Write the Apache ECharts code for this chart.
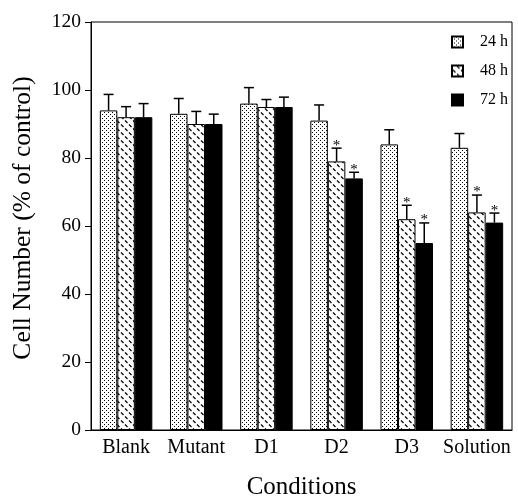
<!DOCTYPE html>
<html><head><meta charset="utf-8">
<script src="https://cdn.jsdelivr.net/npm/echarts@6/dist/echarts.min.js"></script>
<style>html,body{margin:0;padding:0;background:#fff}#c{width:518px;height:499px}</style>
</head><body><div id="c"></div>
<script>
const categories = ['Blank','Mutant','D1','D2','D3','Solution'];
const seriesNames = ['24 h','48 h','72 h'];
const v24 = [94, 93, 96, 91, 84, 83];
const v48 = [92, 90, 95, 79, 62, 64];
const v72 = [92, 90, 95, 74, 55, 61];
const e24 = [4.7, 4.5, 4.7, 4.6, 4.3, 4.2];
const e48 = [3.1, 3.7, 2.2, 3.9, 4.1, 5.1];
const e72 = [4.0, 2.9, 2.9, 1.8, 5.9, 2.8];
const sig24 = [0,0,0,0,0,0];
const sig48 = [0,0,0,1,1,1];
const sig72 = [0,0,0,1,1,1];
const yTicks = [0,20,40,60,80,100,120];

function dotPattern(){
  const c=document.createElement('canvas'); c.width=4; c.height=4;
  const x=c.getContext('2d'); x.fillStyle='#fff'; x.fillRect(0,0,4,4);
  x.fillStyle='#000'; x.fillRect(0,0,1,1); x.fillRect(2,2,1,1);
  return c;
}
function dashPattern(){
  const c=document.createElement('canvas'); c.width=8; c.height=8;
  const x=c.getContext('2d'); x.fillStyle='#fff'; x.fillRect(0,0,8,8);
  x.strokeStyle='#000'; x.lineWidth=1.2;
  x.beginPath(); x.moveTo(1,4.5); x.lineTo(3.5,7); x.moveTo(5,0.5); x.lineTo(7.5,3); x.stroke();
  return c;
}
const fills = [
  {image: dotPattern(), repeat:'repeat'},
  {image: dashPattern(), repeat:'repeat'},
  '#000'
];
const vals=[v24,v48,v72], errs=[e24,e48,e72], sigs=[sig24,sig48,sig72];
const BW = 17.5;
const font = 'Liberation Serif';

const chart = echarts.init(document.getElementById('c'));
const series = [];
for (let s=0;s<3;s++){
  series.push({
    name: seriesNames[s], type:'bar', data: vals[s], barWidth: BW, barGap:'0%',
    itemStyle:{color: fills[s], borderColor:'#000', borderWidth:1},
    emphasis:{disabled:true}
  });
}
const errData=[];
for (let s=0;s<3;s++) for (let i=0;i<categories.length;i++) errData.push([i, vals[s][i], errs[s][i], s, sigs[s][i]]);
series.push({
  type:'custom', data: errData, z: 10, silent:true,
  renderItem: function(params, api){
    const ci=api.value(0), v=api.value(1), e=api.value(2), s=api.value(3), sg=api.value(4);
    const p0=api.coord([ci, v]); const p1=api.coord([ci, v+e]);
    const x=p0[0]+(s-1)*BW;
    const ch=[
      {type:'line', shape:{x1:x,y1:p0[1],x2:x,y2:p1[1]}, style:{stroke:'#000',lineWidth:1.5}},
      {type:'line', shape:{x1:x-5,y1:p1[1],x2:x+5,y2:p1[1]}, style:{stroke:'#000',lineWidth:1.5}}
    ];
    if (sg) ch.push({type:'text', style:{text:'*', x:x, y:p1[1]+5, align:'center', verticalAlign:'bottom', font:'15px "Liberation Serif"', fill:'#000'}});
    return {type:'group', children: ch};
  }
});

chart.setOption({
  animation:false,
  backgroundColor:'#fff',
  grid:{left:91, right:6, top:22, bottom:69, show:true, borderColor:'#000', borderWidth:1, backgroundColor:'transparent', containLabel:false, outerBoundsMode:'none'},
  legend:{
    data: seriesNames, orient:'vertical', left:446, top:29, itemWidth:11, itemHeight:11, itemGap:13,
    icon:'rect', selectedMode:false,
    textStyle:{fontFamily:font, fontSize:16, color:'#000', padding:[0,0,0,12]}
  },
  xAxis:{
    type:'category', data: categories, name:'Conditions', nameLocation:'middle', nameGap:45,
    nameTextStyle:{fontFamily:font, fontSize:25, color:'#000'},
    axisLine:{lineStyle:{color:'#000', width:1}},
    axisTick:{alignWithLabel:true, length:6, lineStyle:{color:'#000'}},
    axisLabel:{interval:0, fontFamily:font, fontSize:20, color:'#000', margin:8}
  },
  yAxis:{
    type:'value', min:yTicks[0], max:yTicks[yTicks.length-1], interval:20,
    name:'Cell Number (% of control)', nameLocation:'middle', nameGap:55,
    nameTextStyle:{fontFamily:font, fontSize:25.5, color:'#000', padding:[0,0,0,16]},
    axisLine:{show:true, lineStyle:{color:'#000', width:1}},
    axisTick:{show:true, length:6, lineStyle:{color:'#000'}},
    axisLabel:{fontFamily:font, fontSize:19.5, color:'#000', margin:10},
    splitLine:{show:false}
  },
  series: series
});
</script></body></html>
